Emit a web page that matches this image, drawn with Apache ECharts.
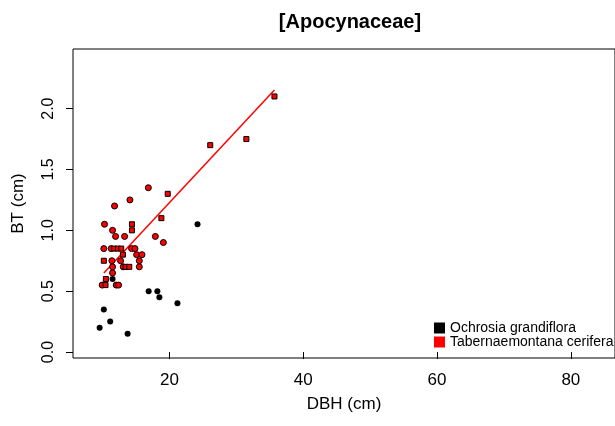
<!DOCTYPE html>
<html>
<head>
<meta charset="utf-8">
<script src="https://cdn.jsdelivr.net/npm/echarts@6/dist/echarts.min.js"></script>
<style>
  html, body { margin: 0; padding: 0; background: #fff; }
  #chart { width: 615px; height: 426px; }
</style>
</head>
<body>
<div id="chart"></div>
<script>
// [DBH, BT] pairs
var ochrosia = [
  [9.57, 0.20], [10.2, 0.35], [11.15, 0.25], [13.75, 0.15], [11.5, 0.60],
  [16.9, 0.50], [18.2, 0.50], [18.5, 0.45], [21.2, 0.40], [24.2, 1.05]
];
var taberCircles = [
  [11.8, 1.20], [14.1, 1.25], [16.85, 1.35], [10.3, 1.05], [11.5, 1.00],
  [11.95, 0.95], [13.3, 0.95], [17.9, 0.95], [19.1, 0.90],
  [10.2, 0.85], [11.3, 0.85], [14.35, 0.85], [14.85, 0.85],
  [15.1, 0.80], [15.9, 0.80],
  [11.4, 0.75], [12.7, 0.75], [15.5, 0.75],
  [11.5, 0.70], [13.1, 0.70], [15.5, 0.70],
  [11.5, 0.65],
  [9.95, 0.55], [12.05, 0.55], [12.4, 0.55]
];
var taberSquares = [
  [18.8, 1.10], [19.75, 1.30], [14.4, 1.05], [14.4, 1.00],
  [11.75, 0.85], [12.3, 0.85], [12.8, 0.85], [13.05, 0.80],
  [10.2, 0.75], [13.45, 0.70], [14.0, 0.70], [10.5, 0.60], [10.45, 0.55],
  [26.1, 1.70], [31.5, 1.75], [35.7, 2.10]
];
var fitLine = [[10.2, 0.65], [35.7, 2.153]];
var xTicks = [20, 40, 60, 80];
var yTicks = [0, 0.5, 1.0, 1.5, 2.0];

var font = 'Liberation Sans, Arial, Helvetica, sans-serif';
var chart = echarts.init(document.getElementById('chart'));

var dotStyle = { color: '#ff0000', borderColor: '#000', borderWidth: 1, opacity: 1 };

chart.setOption({
  animation: false,
  backgroundColor: '#fff',
  title: {
    text: '[Apocynaceae]',
    left: 345, top: 7, textAlign: 'center',
    textStyle: { fontFamily: font, fontSize: 20, fontWeight: 'bold', color: '#000' }
  },
  legend: {
    data: ['Ochrosia grandiflora', 'Tabernaemontana cerifera'],
    orient: 'vertical',
    left: 434, top: 321,
    icon: 'rect',
    itemWidth: 11, itemHeight: 11, itemGap: 0,
    itemStyle: { borderWidth: 0, opacity: 1 },
    padding: 0,
    textStyle: { fontFamily: font, fontSize: 14, lineHeight: 14, color: '#000' }
  },
  grid: { left: 73, top: 49, width: 544, height: 309, show: true, borderColor: '#000', borderWidth: 1 },
  xAxis: {
    type: 'value', min: 5.59, max: 86.6,
    name: 'DBH (cm)', nameLocation: 'middle', nameGap: 38,
    nameTextStyle: { fontFamily: font, fontSize: 17, color: '#000' },
    axisLine: { show: false },
    axisTick: { show: true, length: 7, customValues: xTicks, lineStyle: { color: '#000' } },
    axisLabel: { customValues: xTicks, margin: 14, fontFamily: font, fontSize: 17, color: '#000' },
    splitLine: { show: false }
  },
  yAxis: {
    type: 'value', min: -0.049, max: 2.49,
    name: 'BT (cm)', nameLocation: 'middle', nameGap: 46,
    nameTextStyle: { fontFamily: font, fontSize: 17, color: '#000' },
    axisLine: { show: false },
    axisTick: { show: true, length: 7, customValues: yTicks, lineStyle: { color: '#000' } },
    axisLabel: {
      customValues: yTicks, rotate: 90, margin: 16,
      fontFamily: font, fontSize: 16, color: '#000',
      formatter: function (v) { return v.toFixed(1); }
    },
    splitLine: { show: false }
  },
  series: [
    {
      name: 'Ochrosia grandiflora', type: 'scatter', symbol: 'circle', symbolSize: 6,
      itemStyle: { color: '#000', borderColor: '#000', borderWidth: 0, opacity: 1 },
      data: ochrosia
    },
    {
      name: 'Tabernaemontana cerifera', type: 'scatter', symbol: 'circle', symbolSize: 6,
      itemStyle: dotStyle, data: taberCircles
    },
    {
      name: 'Tabernaemontana cerifera', type: 'scatter', symbol: 'rect', symbolSize: 5,
      itemStyle: dotStyle, data: taberSquares
    },
    {
      name: 'fit', type: 'line', symbol: 'none', data: fitLine,
      lineStyle: { color: '#ff0000', width: 1.5 }, z: 1
    }
  ]
});
</script>
</body>
</html>
